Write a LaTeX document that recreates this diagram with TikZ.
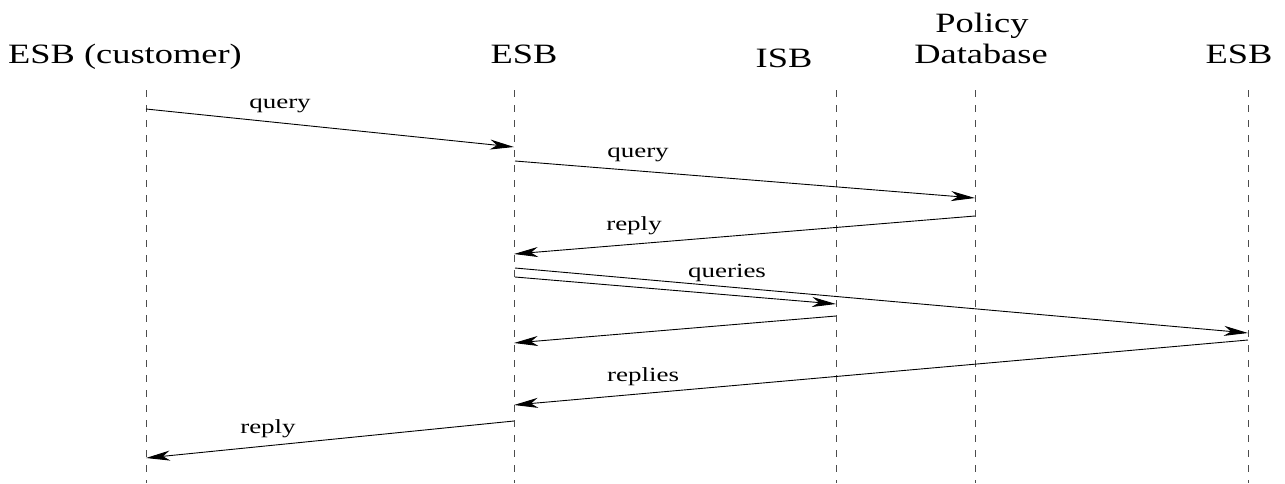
\documentclass[tikz,border=0pt]{standalone}
\usepackage{graphicx}
\usepackage{fontspec}
\setmainfont{Liberation Serif}
\usetikzlibrary{arrows.meta}
\newcommand{\headtxt}[1]{\scalebox{1.3}[1]{\fontsize{28}{31}\selectfont #1}}
\newcommand{\labtxt}[1]{\scalebox{1.35}[1]{\fontsize{20}{22}\selectfont #1}}
\begin{document}
\begin{tikzpicture}[x=1pt,y=-1pt,
  head/.style={anchor=base,inner sep=0pt},
  lab/.style={anchor=base,inner sep=0pt},
  lifeline/.style={draw=black!70,line width=1pt,dash pattern=on 7pt off 8pt},
  msg/.style={draw=black,line width=0.9pt,-{Stealth[length=24pt,width=10pt,inset=7pt]}}]
\useasboundingbox (0,0) rectangle (1285,483);
% headers
\node[head] (hcust) at (125,63) {\headtxt{ESB (customer)}};
\node[head] (hesb) at (524,63) {\headtxt{ESB}};
\node[head] (hisb) at (784,67) {\headtxt{ISB}};
\node[head] (hpol1) at (982,32) {\headtxt{Policy}};
\node[head] (hpol2) at (981,63) {\headtxt{Database}};
\node[head] (hesb2) at (1239,63) {\headtxt{ESB}};
% lifelines
\coordinate (Lc) at (146,90);  \coordinate (Lcb) at (146,483);
\coordinate (Le) at (514,90);  \coordinate (Leb) at (514,483);
\coordinate (Li) at (836,90);  \coordinate (Lib) at (836,483);
\coordinate (Lp) at (975,90);  \coordinate (Lpb) at (975,483);
\coordinate (Lr) at (1248,90); \coordinate (Lrb) at (1248,483);
\draw[lifeline] (Lc) -- (Lcb);
\draw[lifeline] (Le) -- (Leb);
\draw[lifeline] (Li) -- (Lib);
\draw[lifeline] (Lp) -- (Lpb);
\draw[lifeline] (Lr) -- (Lrb);
% message end points
\coordinate (c1) at (146,109);  \coordinate (e1) at (514,147);
\coordinate (e2) at (515,161);  \coordinate (p2) at (975,198);
\coordinate (p3) at (975,216);  \coordinate (e3) at (514,254);
\coordinate (e4) at (515,268);  \coordinate (r4) at (1248,333);
\coordinate (e5) at (515,277);  \coordinate (i5) at (836,304);
\coordinate (i6) at (836,316);  \coordinate (e6) at (514,343);
\coordinate (r7) at (1248,340); \coordinate (e7) at (514,405);
\coordinate (e8) at (514,421);  \coordinate (c8) at (146,458);
\draw[msg] (c1) -- (e1);
\draw[msg] (e2) -- (p2);
\draw[msg] (p3) -- (e3);
\draw[msg] (e4) -- (r4);
\draw[msg] (e5) -- (i5);
\draw[msg] (i6) -- (e6);
\draw[msg] (r7) -- (e7);
\draw[msg] (e8) -- (c8);
% labels
\node[lab] (l1) at (280,108) {\labtxt{query}};
\node[lab] (l2) at (638,157) {\labtxt{query}};
\node[lab] (l3) at (634,230) {\labtxt{reply}};
\node[lab] (l4) at (727,277) {\labtxt{queries}};
\node[lab] (l7) at (643,381) {\labtxt{replies}};
\node[lab] (l8) at (268,433) {\labtxt{reply}};
\end{tikzpicture}
\end{document}
